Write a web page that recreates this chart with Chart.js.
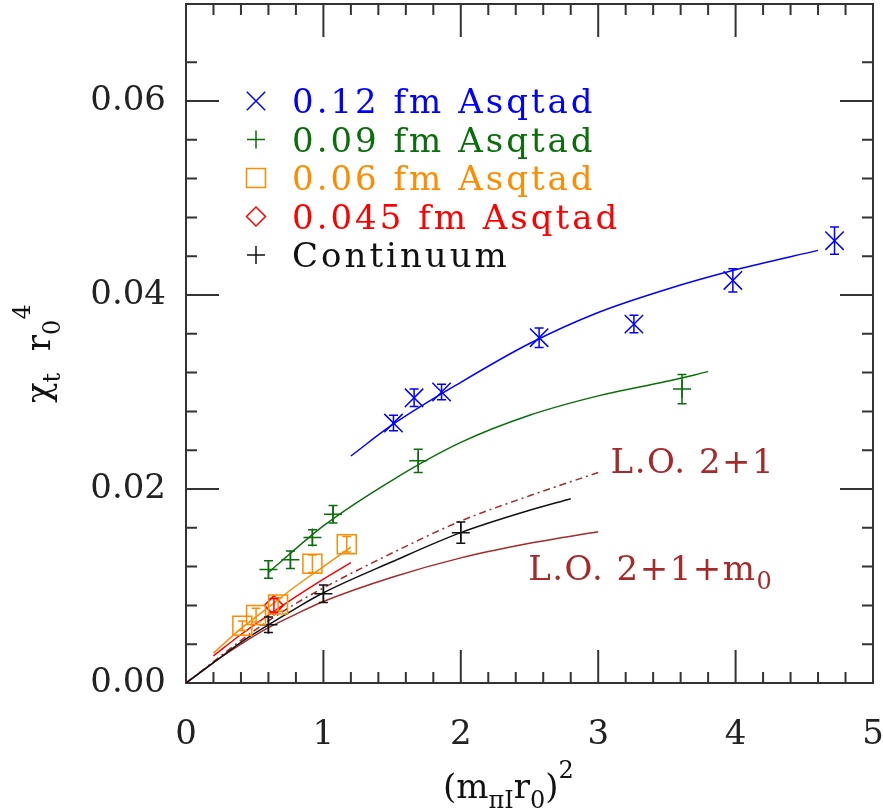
<!DOCTYPE html>
<html>
<head>
<meta charset="utf-8">
<title>chi_t r0^4 vs (m_pi r0)^2</title>
<script src="https://cdn.jsdelivr.net/npm/chart.js@4.4.0/dist/chart.umd.min.js"></script>
<style>
  html, body { margin: 0; padding: 0; background: #fff; }
  canvas { display: block; }
</style>
</head>
<body>
<canvas id="chart" width="883" height="811"></canvas>
<script>
// values: x = (m_pi r0)^2, y = chi_t r0^4

// 0.12 fm Asqtad
const blueX = [1.51, 1.66, 1.86, 2.57, 3.26, 3.98, 4.72];
const blueY = [0.0268, 0.0294, 0.0300, 0.0356, 0.0370, 0.0415, 0.0456];
const blueErr = [0.0008, 0.0009, 0.0008, 0.0010, 0.0009, 0.0012, 0.0014];
const blueFitX = [1.2, 1.5, 2.0, 2.5, 3.0, 3.5, 4.0, 4.6];
const blueFitY = [0.0234, 0.0266, 0.0310, 0.0350, 0.0382, 0.0406, 0.0426, 0.0446];

// 0.09 fm Asqtad
const greenX = [0.60, 0.76, 0.92, 1.07, 1.69, 3.61];
const greenY = [0.0117, 0.0127, 0.0150, 0.0174, 0.0229, 0.0303];
const greenErr = [0.0009, 0.0009, 0.0008, 0.0009, 0.0012, 0.0015];
const greenFitX = [0.6, 1.0, 1.5, 2.0, 2.5, 3.0, 3.5, 3.8];
const greenFitY = [0.0114, 0.0162, 0.0209, 0.0248, 0.0276, 0.0296, 0.0311, 0.0321];

// 0.06 fm Asqtad
const orangeX = [0.41, 0.51, 0.67, 0.92, 1.17];
const orangeY = [0.0059, 0.0070, 0.0081, 0.0123, 0.0143];
const orangeErr = [0.0005, 0.0007, 0.0007, 0.0009, 0.0008];
const orangeFitX = [0.2, 0.4, 0.6, 0.8, 1.0, 1.2];
const orangeFitY = [0.0031, 0.0056, 0.0078, 0.0100, 0.0120, 0.0140];

// 0.045 fm Asqtad
const redX = [0.64];
const redY = [0.0080];
const redErr = [0.0007];
const redFitX = [0.2, 0.4, 0.6, 0.8, 1.0, 1.2];
const redFitY = [0.0028, 0.0050, 0.0070, 0.0089, 0.0107, 0.0124];

// continuum
const contX = [0.60, 1.00, 2.00];
const contY = [0.0060, 0.0092, 0.0155];
const contErr = [0.0008, 0.0009, 0.0011];
const contFitX = [0, 0.2, 0.4, 0.6, 0.8, 1.0, 1.5, 2.0, 2.5, 2.8];
const contFitY = [0, 0.0021, 0.0042, 0.0060, 0.0077, 0.0093, 0.0125, 0.0155, 0.0178, 0.0190];

// leading order curves
const loX = [0, 0.2, 0.4, 0.6, 0.8, 1.0, 1.5, 2.0, 2.5, 3.0];
const lo21Y = [0, 0.0022, 0.0044, 0.0064, 0.0082, 0.0098, 0.0134, 0.0167, 0.0193, 0.0217];
const lo21m0Y = [0, 0.0021, 0.0040, 0.0057, 0.0071, 0.0084, 0.0109, 0.0129, 0.0144, 0.0156];

const xTickLabels = ["0", "1", "2", "3", "4", "5"];
const yTickLabels = ["0.00", "0.02", "0.04", "0.06"];

const BLUE = "#0000ff", GREEN = "#0a6e0a", ORANGE = "#ff8c00", RED = "#ff0000", BLACK = "#111111", BROWN = "#a52a2a";
const FONT = '"DejaVu Serif", serif';

function pts(xs, ys) {
  return xs.map((x, i) => ({ x: x, y: ys[i] }));
}

function fitLine(xs, ys, color, dash) {
  return {
    type: "line",
    data: pts(xs, ys),
    borderColor: color,
    borderWidth: 1.5,
    borderDash: dash || [],
    pointRadius: 0,
    fill: false,
    cubicInterpolationMode: "monotone"
  };
}

function points(xs, ys, err, color, style, radius) {
  return {
    type: "scatter",
    data: pts(xs, ys),
    err: err,
    borderColor: color,
    backgroundColor: "transparent",
    pointStyle: style,
    pointRadius: radius,
    pointBorderWidth: 1.5,
    showLine: false
  };
}

const isMajorX = v => Math.abs(v - Math.round(v)) < 1e-6;
const isMajorY = v => Math.abs(v / 0.02 - Math.round(v / 0.02)) < 1e-6;

// box with inward ticks on all four sides
const frameTicks = {
  id: "frameTicks",
  beforeDatasetsDraw(chart) {
    const { ctx, chartArea: a, scales: { x, y } } = chart;
    ctx.save();
    ctx.strokeStyle = "#333";
    ctx.lineWidth = 2;
    ctx.strokeRect(a.left, a.top, a.right - a.left, a.bottom - a.top);
    ctx.beginPath();
    x.ticks.forEach(t => {
      const px = x.getPixelForValue(t.value);
      const len = isMajorX(t.value) ? 33 : 11;
      ctx.moveTo(px, a.bottom); ctx.lineTo(px, a.bottom - len);
      ctx.moveTo(px, a.top); ctx.lineTo(px, a.top + len);
    });
    y.ticks.forEach(t => {
      const py = y.getPixelForValue(t.value);
      const len = isMajorY(t.value) ? 33 : 11;
      ctx.moveTo(a.left, py); ctx.lineTo(a.left + len, py);
      ctx.moveTo(a.right, py); ctx.lineTo(a.right - len, py);
    });
    ctx.stroke();
    ctx.restore();
  }
};

// vertical error bars with caps
const errorBars = {
  id: "errorBars",
  afterDatasetsDraw(chart) {
    const { ctx, scales: { y } } = chart;
    ctx.save();
    ctx.lineWidth = 1.5;
    chart.data.datasets.forEach((ds, i) => {
      if (!ds.err) return;
      const meta = chart.getDatasetMeta(i);
      ctx.strokeStyle = ds.borderColor;
      ctx.beginPath();
      meta.data.forEach((el, j) => {
        const v = ds.data[j].y, e = ds.err[j];
        const top = y.getPixelForValue(v + e);
        const bot = y.getPixelForValue(v - e);
        ctx.moveTo(el.x, top); ctx.lineTo(el.x, bot);
        ctx.moveTo(el.x - 4.5, top); ctx.lineTo(el.x + 4.5, top);
        ctx.moveTo(el.x - 4.5, bot); ctx.lineTo(el.x + 4.5, bot);
      });
      ctx.stroke();
    });
    ctx.restore();
  }
};

// text with sub/superscripts: parts = [text, size, dy]
function drawRich(ctx, parts, x, y, color) {
  ctx.fillStyle = color;
  ctx.textBaseline = "alphabetic";
  ctx.textAlign = "left";
  parts.forEach(p => {
    ctx.font = p[1] + "px " + FONT;
    ctx.fillText(p[0], x, y + p[2]);
    x += ctx.measureText(p[0]).width;
  });
}

const legendItems = [
  { label: "0.12 fm Asqtad", color: BLUE, style: "crossRot", radius: 13 },
  { label: "0.09 fm Asqtad", color: GREEN, style: "cross", radius: 9 },
  { label: "0.06 fm Asqtad", color: ORANGE, style: "rect", radius: 13.4 },
  { label: "0.045 fm Asqtad", color: RED, style: "rectRot", radius: 9.5 },
  { label: "Continuum", color: BLACK, style: "cross", radius: 9 }
];

const labelsPlugin = {
  id: "labelsPlugin",
  afterDraw(chart) {
    const { ctx, scales: { x, y } } = chart;
    ctx.save();

    // legend
    legendItems.forEach((it, i) => {
      const cy = 101 + i * 38.5;
      ctx.strokeStyle = it.color;
      ctx.fillStyle = "transparent";
      ctx.lineWidth = 1.5;
      Chart.helpers.drawPoint(ctx, { pointStyle: it.style, radius: it.radius, borderWidth: 1.5, rotation: 0 }, 256, cy);
      ctx.font = "34px " + FONT;
      ctx.letterSpacing = "3px";
      ctx.fillStyle = it.color;
      ctx.textAlign = "left";
      ctx.textBaseline = "alphabetic";
      ctx.fillText(it.label, 292, cy + 12);
    });

    // curve labels
    ctx.letterSpacing = "1.5px";
    drawRich(ctx, [["L.O. 2+1", 34, 0]], x.getPixelForValue(3.09), y.getPixelForValue(0.02168), BROWN);
    drawRich(ctx, [["L.O. 2+1+m", 34, 0], ["0", 24, 9]], x.getPixelForValue(2.49), y.getPixelForValue(0.01065), BROWN);
    ctx.letterSpacing = "0px";

    // axis titles
    drawRich(ctx, [["(m", 34, 0], ["\u03c0I", 24, 10], ["r", 34, 0], ["0", 24, 10], [")", 34, 0], ["2", 24, -20]], 443, 798, "#111");
    ctx.translate(50, 403);
    ctx.rotate(-Math.PI / 2);
    drawRich(ctx, [["\u03c7", 34, 0], ["t", 24, 10], ["  ", 34, 0], ["r", 34, 0], ["0", 24, 10], ["4", 24, -20]], 0, 0, "#111");
    ctx.restore();
  }
};

new Chart(document.getElementById("chart"), {
  data: {
    datasets: [
      points(blueX, blueY, blueErr, BLUE, "crossRot", 13),
      points(greenX, greenY, greenErr, GREEN, "cross", 9),
      points(orangeX, orangeY, orangeErr, ORANGE, "rect", 13.4),
      points(redX, redY, redErr, RED, "rectRot", 9.5),
      points(contX, contY, contErr, BLACK, "cross", 9),
      fitLine(blueFitX, blueFitY, BLUE),
      fitLine(greenFitX, greenFitY, GREEN),
      fitLine(orangeFitX, orangeFitY, ORANGE),
      fitLine(redFitX, redFitY, RED),
      fitLine(contFitX, contFitY, BLACK),
      fitLine(loX, lo21Y, BROWN, [7, 4, 2, 4]),
      fitLine(loX, lo21m0Y, BROWN)
    ]
  },
  options: {
    responsive: false,
    animation: false,
    devicePixelRatio: 1,
    layout: { autoPadding: false, padding: { left: 10, right: 10, top: 4, bottom: 10 } },
    plugins: { legend: { display: false }, tooltip: { enabled: false } },
    scales: {
      x: {
        type: "linear",
        min: 0,
        max: 5,
        grid: { display: false, drawTicks: false },
        border: { display: false },
        ticks: {
          stepSize: 0.2,
          autoSkip: false,
          maxRotation: 0,
          padding: 32,
          color: "#222",
          font: { family: FONT, size: 34 },
          callback: v => isMajorX(v) ? xTickLabels[Math.round(v)] : ""
        },
        afterFit: s => { s.height = 118; s.paddingLeft = 0; s.paddingRight = 0; }
      },
      y: {
        type: "linear",
        min: 0,
        max: 0.07,
        grid: { display: false, drawTicks: false },
        border: { display: false },
        ticks: {
          stepSize: 0.004,
          autoSkip: false,
          padding: 20,
          color: "#222",
          font: { family: FONT, size: 34 },
          callback: v => isMajorY(v) ? yTickLabels[Math.round(v / 0.02)] : ""
        },
        afterFit: s => { s.width = 176; s.paddingTop = 0; s.paddingBottom = 0; }
      }
    }
  },
  plugins: [frameTicks, errorBars, labelsPlugin]
});
</script>
</body>
</html>
